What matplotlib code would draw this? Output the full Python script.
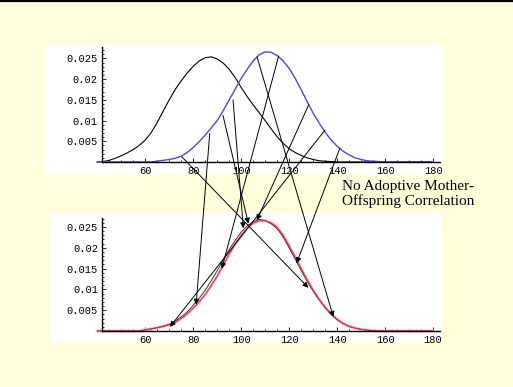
import matplotlib
matplotlib.use("Agg")
import matplotlib.pyplot as plt
from matplotlib.patches import ConnectionPatch
from matplotlib.lines import Line2D
from matplotlib.ticker import FixedLocator

# DATOS
x_vals = [40, 42.5, 45, 47.5, 50, 52.5, 55, 57.5, 60, 62.5, 65, 67.5, 70, 72.5,
          75, 77.5, 80, 82.5, 85, 87.5, 90, 92.5, 95, 97.5, 100, 102.5, 105, 107.5,
          110, 112.5, 115, 117.5, 120, 122.5, 125, 127.5, 130, 132.5, 135, 137.5,
          140, 142.5, 145, 147.5, 150, 152.5, 155, 157.5, 160, 162.5, 165, 167.5,
          170, 172.5, 175, 177.5, 180]

# madres (curva negra) e hijos (curva azul), panel superior
madre = [0.0000, 0.0001, 0.0004, 0.0009, 0.0015, 0.0022, 0.0030, 0.0040, 0.0053,
         0.0071, 0.0095, 0.0123, 0.0150, 0.0175, 0.0196, 0.0215, 0.0231, 0.0244,
         0.0252, 0.0254, 0.0249, 0.0239, 0.0224, 0.0204, 0.0180, 0.0158, 0.0138,
         0.0119, 0.0100, 0.0080, 0.0061, 0.0045, 0.0032, 0.0023, 0.0016, 0.0010,
         0.0006, 0.0003, 0.0002, 0.0001,
         0, 0, 0, 0, 0, 0, 0, 0, 0, 0, 0, 0, 0, 0, 0, 0, 0]
hijo = [0, 0, 0, 0, 0, 0, 0, 0, 0, 0,
        0.0002, 0.0004, 0.0006, 0.0009, 0.0014, 0.0023, 0.0035, 0.0049, 0.0065,
        0.0082, 0.0100, 0.0124, 0.0150, 0.0176, 0.0202, 0.0224, 0.0244, 0.0259,
        0.0266, 0.0265, 0.0257, 0.0244, 0.0226, 0.0202, 0.0175, 0.0146, 0.0118,
        0.0094, 0.0072, 0.0053, 0.0038, 0.0026, 0.0017, 0.0010, 0.0006, 0.0003,
        0.0002, 0.0001,
        0, 0, 0, 0, 0, 0, 0, 0, 0]

# panel inferior
inf_rojo = [0, 0, 0, 0, 0, 0, 0, 0,
            0.0003, 0.0005, 0.0008, 0.0011, 0.0015, 0.0021, 0.0030, 0.0041, 0.0055,
            0.0070, 0.0088, 0.0109, 0.0132, 0.0158, 0.0185, 0.0209, 0.0230, 0.0247,
            0.0259, 0.0265, 0.0265, 0.0260, 0.0249, 0.0230, 0.0205, 0.0178, 0.0150,
            0.0123, 0.0098, 0.0076, 0.0057, 0.0041, 0.0028, 0.0018, 0.0011, 0.0007,
            0.0004, 0.0002, 0.0001, 0.0000,
            0, 0, 0, 0, 0, 0, 0, 0, 0]
inf_negro = [0, 0, 0, 0, 0, 0, 0, 0,
             0.0003, 0.0005, 0.0008, 0.0012, 0.0016, 0.0024, 0.0034, 0.0046, 0.0062,
             0.0079, 0.0098, 0.0121, 0.0145, 0.0171, 0.0196, 0.0218, 0.0238, 0.0253,
             0.0263, 0.0268, 0.0266, 0.0258, 0.0246, 0.0226, 0.0200, 0.0173, 0.0146,
             0.0120, 0.0096, 0.0075, 0.0056, 0.0040, 0.0027, 0.0018, 0.0011, 0.0007,
             0.0004, 0.0002, 0.0001, 0.0000,
             0, 0, 0, 0, 0, 0, 0, 0, 0]

# flechas: punto en curva azul (arriba) -> punto en curva inferior
flecha_ini_x = [75.2, 86.9, 92.4, 96.6, 106.6, 115.6, 128.1, 134.9, 141.1]
flecha_ini_y = [0.0013, 0.0069, 0.0113, 0.0150, 0.0254, 0.0256, 0.0138, 0.0077, 0.0033]
flecha_fin_x = [128.0, 81.2, 103.0, 100.9, 138.4, 91.9, 106.5, 70.3, 123.1]
flecha_fin_y = [0.0104, 0.0063, 0.0258, 0.0247, 0.0034, 0.0150, 0.0266, 0.0010, 0.0163]

xticks = [60, 80, 100, 120, 140, 160, 180]
yticks = [0.005, 0.01, 0.015, 0.02, 0.025]
ytick_lab = ["0.005", "0.01", "0.015", "0.02", "0.025"]

W, H = 513, 387
fondo = "#ffffdd"

fig = plt.figure(figsize=(W / 100, H / 100), dpi=100, facecolor=fondo)


def panel(px0, py0, px1, py1, xlim, ylim, ytop):
    ax = fig.add_axes([px0 / W, 1 - py1 / H, (px1 - px0) / W, (py1 - py0) / H])
    ax.set_facecolor("white")
    ax.set_xlim(*xlim)
    ax.set_ylim(*ylim)
    for s in ["top", "right"]:
        ax.spines[s].set_visible(False)
    ax.spines["left"].set_position(("data", 42))
    ax.spines["bottom"].set_position(("data", 0))
    ax.spines["left"].set_bounds(0, ytop)
    ax.spines["bottom"].set_bounds(42, 183)
    ax.spines["left"].set_linewidth(1.0)
    ax.spines["bottom"].set_linewidth(1.0)
    ax.set_xticks(xticks)
    ax.set_xticklabels([str(t) for t in xticks])
    ax.set_yticks(yticks)
    ax.set_yticklabels(ytick_lab)
    ax.xaxis.set_minor_locator(FixedLocator([v for v in range(45, 181, 5) if v % 20 != 0]))
    ax.yaxis.set_minor_locator(FixedLocator([i / 1000 for i in range(1, 28) if i % 5 != 0]))
    ax.tick_params(which="both", direction="in", width=0.6)
    ax.tick_params(which="major", length=3, labelsize=7.5, pad=3)
    ax.tick_params(which="minor", length=1.5)
    for lab in ax.get_xticklabels() + ax.get_yticklabels():
        lab.set_family("Liberation Mono")
    return ax


ax1 = panel(45, 45, 443, 174, (18.25, 184.1), (-0.0029, 0.02826), 0.0278)
ax2 = panel(50, 213, 442, 342, (20.3, 183.7), (-0.00264, 0.02837), 0.0272)

# curvas
ax1.plot(x_vals, madre, color="black", lw=0.8)
ax1.plot(x_vals, hijo, color="#5048cc", lw=1.0)

ax2.plot(x_vals, inf_rojo, color="#f8c4d0", lw=2.2)
ax2.plot(x_vals, inf_negro, color="#202020", lw=0.6)
ax2.plot(x_vals, inf_rojo, color="#e03050", lw=0.8)

# flechas entre paneles
for i in range(len(flecha_ini_x)):
    con = ConnectionPatch(xyA=(flecha_ini_x[i], flecha_ini_y[i]), coordsA="data", axesA=ax1,
                          xyB=(flecha_fin_x[i], flecha_fin_y[i]), coordsB="data", axesB=ax2,
                          arrowstyle="-|>", mutation_scale=8, lw=0.7, color="black",
                          shrinkA=0, shrinkB=0, zorder=5)
    fig.add_artist(con)

fig.text(342 / W, 1 - 180 / H, "No Adoptive Mother-\nOffspring Correlation",
         family="Liberation Serif", fontsize=11, ha="left", va="top", linespacing=1.15)

# linea negra superior
fig.add_artist(Line2D([0, 1], [1 - 0.8 / H, 1 - 0.8 / H], transform=fig.transFigure,
                      color="black", lw=1.6))

fig.savefig("out.png", dpi=100, facecolor=fondo)
